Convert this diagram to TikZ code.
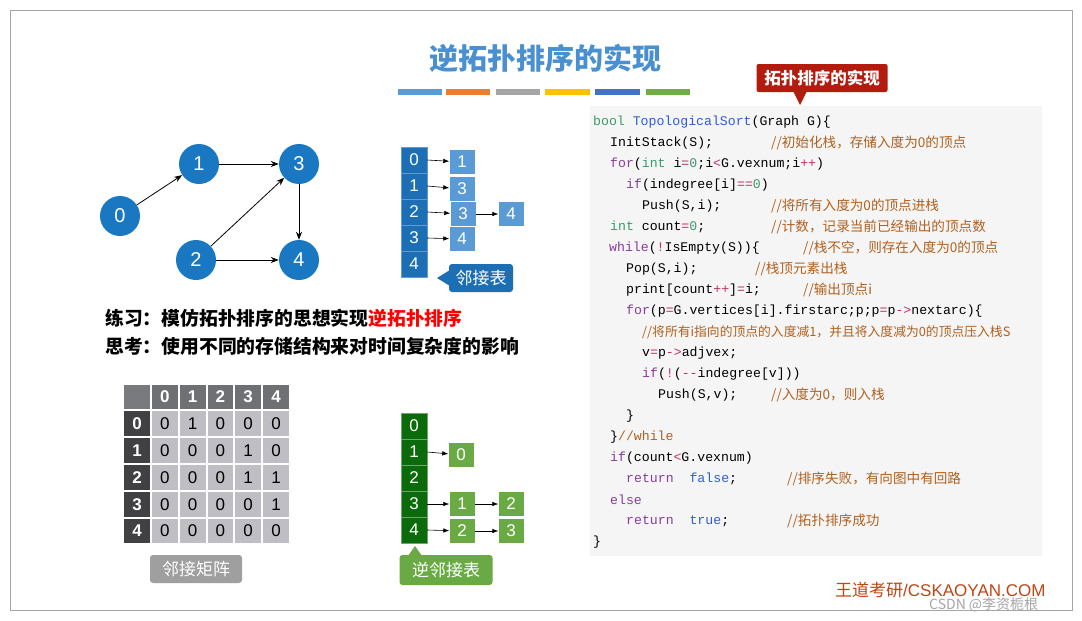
\documentclass[tikz,border=0pt]{standalone}
\usepackage{fontspec}
\usetikzlibrary{arrows.meta}
\setmainfont{Liberation Sans}
\newfontfamily\cjk{Noto Sans CJK SC}
\newfontfamily\codefont{Liberation Mono}
\definecolor{tblue}{HTML}{4A90D0}
\definecolor{nblue}{HTML}{1A78C2}
\definecolor{adjdark}{HTML}{1D6FB5}
\definecolor{adjlight}{HTML}{5B9BD5}
\definecolor{gdark}{HTML}{0B6B0B}
\definecolor{glight}{HTML}{6AAA45}
\definecolor{cred}{HTML}{B31B0E}
\definecolor{ccom}{HTML}{B0601E}
\definecolor{ckw}{HTML}{8A3C9C}
\definecolor{ctype}{HTML}{3C9A6A}
\definecolor{cfn}{HTML}{2E5FD0}
\definecolor{cop}{HTML}{C0306A}
\newcommand{\kw}[1]{\textcolor{ckw}{#1}}
\newcommand{\ty}[1]{\textcolor{ctype}{#1}}
\newcommand{\op}[1]{\textcolor{cop}{#1}}
\newcommand{\bl}[1]{\textcolor{cfn}{#1}}
\begin{document}
\begin{tikzpicture}[x=1pt,y=-1pt,
  vert/.style={circle,fill=nblue,text=white,minimum size=40pt,inner sep=0,font=\fontsize{20}{20}\selectfont},
  garrow/.style={-{Stealth[length=8pt,width=6pt]},thick,black},
  headc/.style={draw=adjdark!70!white,fill=adjdark,text=white,minimum width=26pt,minimum height=26pt,inner sep=0,font=\fontsize{17}{17}\selectfont},
  entb/.style={fill=adjlight,text=white,minimum width=25pt,minimum height=24pt,inner sep=0,font=\fontsize{17}{17}\selectfont},
  headg/.style={draw=gdark!60!white,fill=gdark,text=white,minimum width=26pt,minimum height=26pt,inner sep=0,font=\fontsize{17}{17}\selectfont},
  entg/.style={fill=glight,text=white,minimum width=25pt,minimum height=24pt,inner sep=0,font=\fontsize{17}{17}\selectfont},
  larr/.style={-{Latex[length=6pt]},semithick,black},
  code/.style={anchor=west,inner sep=0,font=\codefont\fontsize{13.2}{13}\selectfont},
  cmt/.style={anchor=west,inner sep=0,text=ccom,font=\cjk\fontsize{13.6}{13}\selectfont},
  mcell/.style={minimum width=27pt,minimum height=26pt,inner sep=0,draw=white,line width=1.2pt,font=\fontsize{16}{16}\selectfont}
]
\useasboundingbox (0,0) rectangle (1082,621);
\fill[white] (0,0) rectangle (1082,621);
\draw[gray!70] (10,10) rectangle (1072,610);
% title
\node[text=tblue,font=\cjk\bfseries\fontsize{29}{29}\selectfont] (title) at (545,58) {逆拓扑排序的实现};
\foreach \a/\b/\c in {398/442/5B9BD5,446/490/ED7D31,496/540/A5A5A5,545/590/FFC000,595/640/4472C4,646/690/70AD47}{
  \definecolor{barc}{HTML}{\c}
  \fill[barc] (\a,89) rectangle (\b,95);}
% red callout
\node[fill=cred,rounded corners=2pt,text=white,minimum width=131pt,minimum height=28pt,font=\cjk\bfseries\fontsize{16.5}{16}\selectfont] (callout) at (822,78) {拓扑排序的实现};
\fill[cred] (793,91) -- (807,91) -- (800,105) -- cycle;
% code panel
\fill[gray!8] (590,106) rectangle (1042,556);
\node[code] (c1) at (593,122) {\ty{bool} \bl{TopologicalSort}(Graph G)\{};
\node[code] (c2) at (610,143) {InitStack(S);};
\node[cmt] at (771,143) {//初始化栈，存储入度为0的顶点};
\node[code] (c3) at (610,164) {\kw{for}(\ty{int} i\op{=}\ty{0};i\op{<}G.vexnum;i\op{++})};
\node[code] (c4) at (626,185) {\kw{if}(indegree[i]\op{==}\ty{0})};
\node[code] (c5) at (642,206) {Push(S,i);};
\node[cmt] at (771,206) {//将所有入度为0的顶点进栈};
\node[code] (c6) at (610,227) {\ty{int} count\op{=}\ty{0};};
\node[cmt] at (771,227) {//计数，记录当前已经输出的顶点数};
\node[code] (c7) at (609,248) {\kw{while}(\op{!}IsEmpty(S))\{};
\node[cmt] at (803,248) {//栈不空，则存在入度为0的顶点};
\node[code] (c8) at (626,269) {Pop(S,i);};
\node[cmt] at (755,269) {//栈顶元素出栈};
\node[code] (c9) at (626,290) {print[count\op{++}]\op{=}i;};
\node[cmt] at (803,290) {//输出顶点i};
\node[code] (c10) at (626,311) {\kw{for}(p\op{=}G.vertices[i].firstarc;p;p\op{=}p\op{->}nextarc)\{};
\node[cmt,font=\cjk\fontsize{12.8}{13}\selectfont] at (642,332) {//将所有i指向的顶点的入度减1，并且将入度减为0的顶点压入栈S};
\node[code] (c11) at (642,353) {v\op{=}p\op{->}adjvex;};
\node[code] (c12) at (642,374) {\kw{if}(\op{!}(\op{-{}-}indegree[v]))};
\node[code] (c13) at (658,395) {Push(S,v);};
\node[cmt] at (771,395) {//入度为0，则入栈};
\node[code] (c14) at (626,416) {\}};
\node[code] (c15) at (610,437) {\}\textcolor{ccom}{//while}};
\node[code] (c16) at (610,458) {\kw{if}(count\op{<}G.vexnum)};
\node[code] (c17) at (626,479) {\kw{return}\ \ \bl{false};};
\node[cmt] at (787,479) {//排序失败，有向图中有回路};
\node[code] (c18) at (610,500) {\kw{else}};
\node[code] (c19) at (626,521) {\kw{return}\ \ \bl{true};};
\node[cmt] at (787,521) {//拓扑排序成功};
\node[code] (c20) at (593,542) {\}};
% graph
\node[vert] (v0) at (120,216) {0};
\node[vert] (v1) at (199,164) {1};
\node[vert] (v3) at (299,164) {3};
\node[vert] (v2) at (196,260) {2};
\node[vert] (v4) at (299,260) {4};
\draw[garrow] (v0) -- (v1);
\draw[garrow] (v1) -- (v3);
\draw[garrow] (v2) -- (v3);
\draw[garrow] (v2) -- (v4);
\draw[garrow] (v3) -- (v4);
% adjacency list
\foreach \i/\y in {0/160,1/186,2/212,3/238,4/264} \node[headc] (a\i) at (414,\y) {\i};
\node[entb] (a0x) at (462,162) {1};
\node[entb] (a1x) at (462,189) {3};
\node[entb] (a2x) at (463,214) {3};
\node[entb] (a2y) at (511,214) {4};
\node[entb] (a3x) at (462,239) {4};
\draw[larr] (a0.east) -- (a0x);
\draw[larr] (a1.east) -- (a1x);
\draw[larr] (a2.east) -- (a2x);
\draw[larr] (a2x) -- (a2y);
\draw[larr] (a3.east) -- (a3x);
\node[fill=adjdark,rounded corners=3pt,text=white,minimum width=64pt,minimum height=28pt,font=\cjk\fontsize{17}{17}\selectfont] (adjlab) at (481,278) {邻接表};
\fill[adjdark] (450,270) -- (437,278) -- (450,286) -- cycle;
% practice text
\node[anchor=west,inner sep=0,font=\cjk\bfseries\fontsize{18.8}{19}\selectfont] (t1) at (105,318) {练习：模仿拓扑排序的思想实现\textcolor{red}{逆拓扑排序}};
\node[anchor=west,inner sep=0,font=\cjk\bfseries\fontsize{18.8}{19}\selectfont] (t2) at (105,346) {思考：使用不同的存储结构来对时间复杂度的影响};
% matrix
\foreach \c in {0,...,5} {
  \foreach \r in {0,...,5} {
    \pgfmathsetmacro{\xx}{137+\c*27.8}
    \pgfmathsetmacro{\yy}{397+\r*26.8}
    \ifnum\r=0
      \ifnum\c=0 \node[mcell,fill={rgb,255:red,120;green,122;blue,126}] at (\xx,\yy) {};
      \else \pgfmathtruncatemacro{\lab}{\c-1}\node[mcell,fill={rgb,255:red,110;green,112;blue,116},text=white,font=\bfseries\fontsize{17}{17}\selectfont] at (\xx,\yy) {\lab};\fi
    \else
      \ifnum\c=0 \pgfmathtruncatemacro{\lab}{\r-1}\node[mcell,fill={rgb,255:red,65;green,64;blue,66},text=white,font=\bfseries\fontsize{17}{17}\selectfont] at (\xx,\yy) {\lab};\fi
    \fi
  }
}
\foreach \row [count=\r] in {{0,1,0,0,0},{0,0,0,1,0},{0,0,0,1,1},{0,0,0,0,1},{0,0,0,0,0}} {
  \foreach \v [count=\c] in \row {
    \node[mcell,fill={rgb,255:red,190;green,190;blue,196},font=\fontsize{17}{17}\selectfont] at ({137+\c*27.8},{397+\r*26.8}) {\v};
  }
}
\node[fill=gray!75,rounded corners=3pt,text=white,minimum width=92pt,minimum height=28pt,font=\cjk\fontsize{17}{17}\selectfont] (matlab) at (196,569) {邻接矩阵};
% inverse adjacency list
\foreach \i/\y in {0/426,1/452,2/478,3/504,4/530} \node[headg] (g\i) at (414,\y) {\i};
\node[entg] (g1x) at (461,455) {0};
\node[entg] (g3x) at (462,504) {1};
\node[entg] (g3y) at (511,504) {2};
\node[entg] (g4x) at (462,531) {2};
\node[entg] (g4y) at (511,531) {3};
\draw[larr] (g1.east) -- (g1x);
\draw[larr] (g3.east) -- (g3x);
\draw[larr] (g3x) -- (g3y);
\draw[larr] (g4.east) -- (g4x);
\draw[larr] (g4x) -- (g4y);
\node[fill=glight,rounded corners=3pt,text=white,minimum width=93pt,minimum height=30pt,font=\cjk\fontsize{17}{17}\selectfont] (invlab) at (446,570) {逆邻接表};
\fill[glight] (408,556) -- (415,546) -- (422,556) -- cycle;
% footer
\node[anchor=west,inner sep=0,text={rgb,255:red,190;green,70;blue,20},font=\fontsize{17}{17}\selectfont] (foot) at (835,590) {{\cjk 王道考研}/CSKAOYAN.COM};
\node[anchor=west,inner sep=0,text=gray!70,font=\cjk\fontsize{14}{14}\selectfont] (csdn) at (929,605) {CSDN @李资栀根};
\end{tikzpicture}
\end{document}
